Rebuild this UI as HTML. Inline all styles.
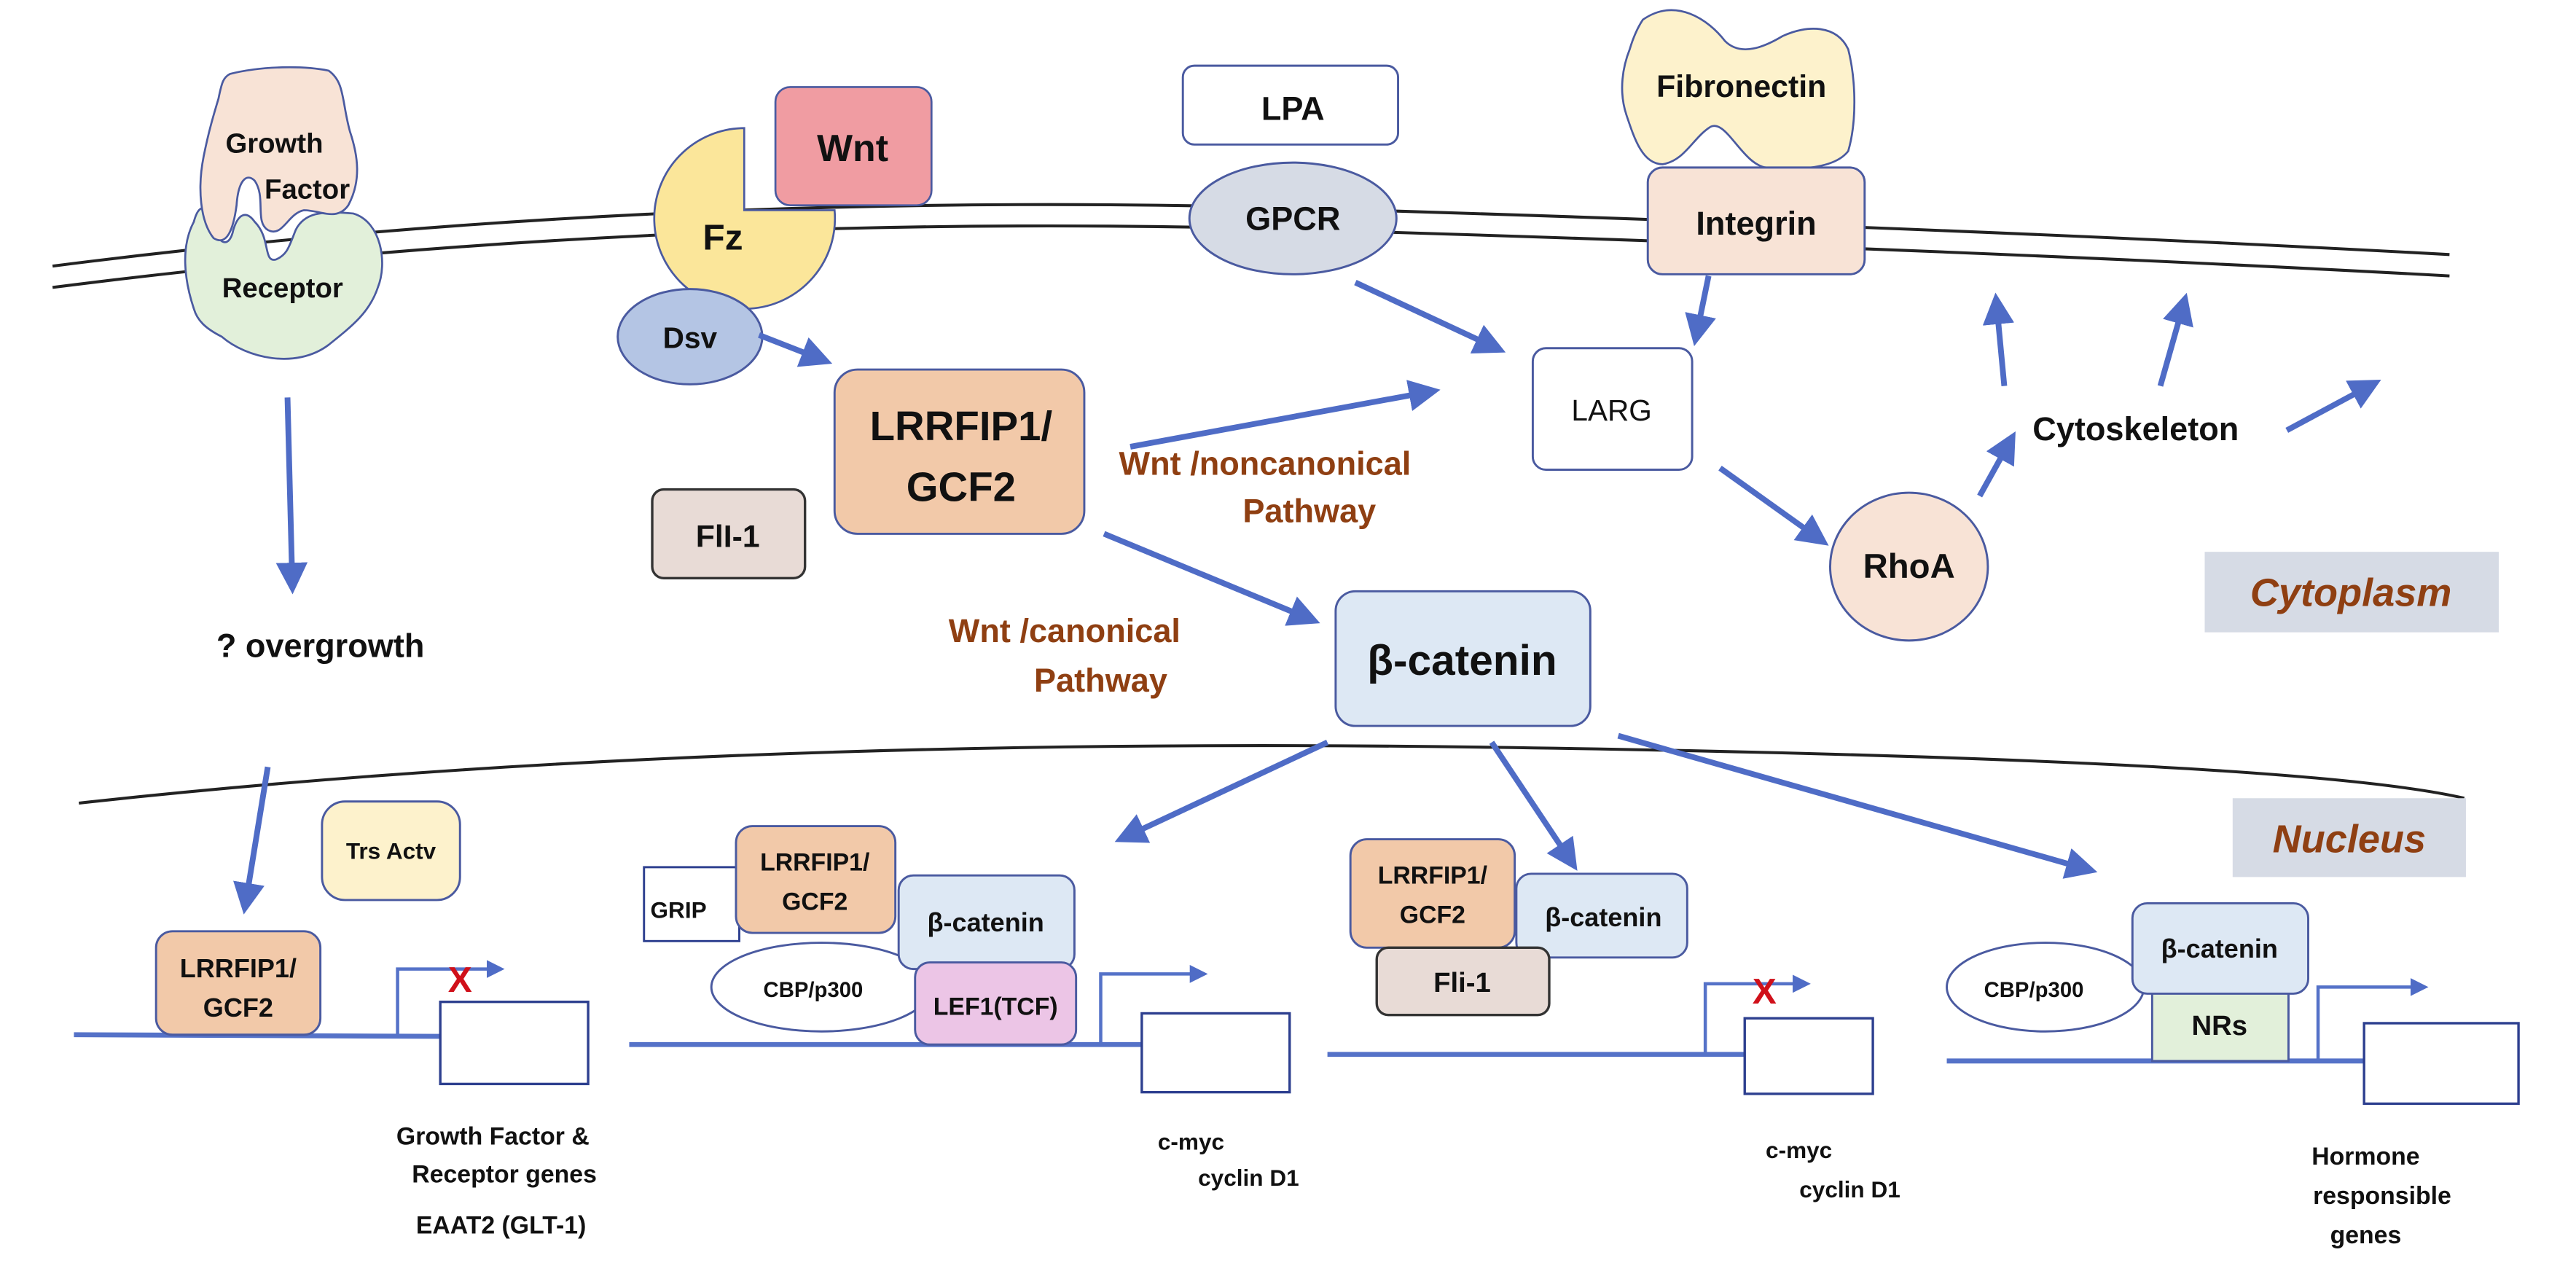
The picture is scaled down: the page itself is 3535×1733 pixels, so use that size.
<!DOCTYPE html>
<html><head><meta charset="utf-8"><style>
html,body{margin:0;padding:0;background:#fff;}
svg{display:block;}
text{font-family:"Liberation Sans",Arial,sans-serif;font-weight:bold;fill:#111;}
.br{fill:#8f3f12;}
</style></head><body>
<svg width="3535" height="1733" viewBox="0 0 1568 769" preserveAspectRatio="none" xmlns="http://www.w3.org/2000/svg">
<defs>
<marker id="ah" viewBox="0 0 10 10" refX="8" refY="5" markerWidth="5.5" markerHeight="5.5" orient="auto" markerUnits="strokeWidth">
<path d="M0,0 L10,5 L0,10 z" fill="#4f6cc6"/></marker>
<marker id="as" viewBox="0 0 10 10" refX="8" refY="5" markerWidth="5.5" markerHeight="5.5" orient="auto" markerUnits="strokeWidth">
<path d="M0,0 L10,5 L0,10 z" fill="#4f6cc6"/></marker>
</defs>
<!-- membranes -->
<path d="M32,162 Q400,115 800,127 T1491,155" fill="none" stroke="#222" stroke-width="1.8"/>
<path d="M32,175 Q400,128 800,140 T1491,168" fill="none" stroke="#222" stroke-width="1.8"/>
<path d="M48,489 Q420,448 908,455 T1500,486" fill="none" stroke="#222" stroke-width="1.8"/>

<!-- growth factor / receptor -->
<path d="M118,188 C112,170 110,150 118,135 C122,120 128,128 131,140 C134,150 140,150 142,140 C145,130 150,128 155,135 C165,145 160,160 168,158 C175,155 176,150 180,140 C185,130 195,128 215,130 C232,135 236,160 230,175 C225,190 215,198 200,210 C180,225 150,218 135,205 C125,200 120,195 118,188 Z" fill="#e2f0da" stroke="#4a5aa0" stroke-width="1.2"/>
<path d="M140,45 C160,40 185,40 200,43 C210,50 208,62 213,80 C218,95 220,110 212,125 C205,135 195,128 185,128 C175,130 172,145 163,140 C155,135 162,120 155,110 C150,105 145,110 144,125 C142,140 138,150 130,145 C122,135 120,115 124,95 C127,80 130,70 133,60 C135,50 136,47 140,45 Z" fill="#f8e3d6" stroke="#4a5aa0" stroke-width="1.2"/>
<text x="167" y="93" font-size="17" text-anchor="middle">Growth</text>
<text x="187" y="121" font-size="17" text-anchor="middle">Factor</text>
<text x="172" y="181" font-size="17" text-anchor="middle">Receptor</text>

<!-- Fz & Wnt -->
<path d="M453,78 L453,128 L508,128 A55,55 0 1 1 453,78 Z" fill="#fbe69a" stroke="#4a5aa0" stroke-width="1.2"/>
<rect x="472" y="53" width="95" height="72" rx="9" fill="#f09ca2" stroke="#4a5aa0" stroke-width="1.2"/>
<text x="519" y="98" font-size="23" text-anchor="middle">Wnt</text>
<text x="440" y="152" font-size="22" text-anchor="middle">Fz</text>

<!-- LPA GPCR -->
<rect x="720" y="40" width="131" height="48" rx="7" fill="#fff" stroke="#4a5aa0" stroke-width="1.3"/>
<text x="787" y="73" font-size="20" text-anchor="middle">LPA</text>
<ellipse cx="787" cy="133" rx="63" ry="34" fill="#d6dbe5" stroke="#4a5aa0" stroke-width="1.3"/>
<text x="787" y="140" font-size="20" text-anchor="middle">GPCR</text>

<!-- Fibronectin / Integrin -->
<path d="M1000,12 C1020,-2 1040,12 1050,25 C1060,35 1075,28 1085,22 C1100,15 1118,15 1125,30 C1130,50 1130,75 1125,92 C1115,105 1085,103 1075,102 C1060,100 1050,70 1040,78 C1030,85 1025,98 1012,100 C1000,100 995,85 990,70 C985,55 988,40 992,30 C995,20 998,15 1000,12 Z" fill="#fdf2cc" stroke="#4a5aa0" stroke-width="1.2"/>
<text x="1060" y="59" font-size="19" text-anchor="middle">Fibronectin</text>
<rect x="1003" y="102" width="132" height="65" rx="9" fill="#f8e3d6" stroke="#4a5aa0" stroke-width="1.3"/>
<text x="1069" y="143" font-size="20" text-anchor="middle">Integrin</text>

<!-- Dsv, LRRFIP1, Fli-1 -->
<ellipse cx="420" cy="205" rx="44" ry="29" fill="#b4c5e4" stroke="#4a5aa0" stroke-width="1.3"/>
<text x="420" y="212" font-size="18" text-anchor="middle">Dsv</text>
<rect x="508" y="225" width="152" height="100" rx="14" fill="#f2c9a9" stroke="#4a5aa0" stroke-width="1.3"/>
<text x="585" y="268" font-size="25" text-anchor="middle">LRRFIP1/</text>
<text x="585" y="305" font-size="25" text-anchor="middle">GCF2</text>
<rect x="397" y="298" width="93" height="54" rx="7" fill="#e8dbd6" stroke="#333" stroke-width="1.5"/>
<text x="443" y="333" font-size="19" text-anchor="middle">FlI-1</text>

<!-- LARG RhoA -->
<rect x="933" y="212" width="97" height="74" rx="8" fill="#fff" stroke="#4a5aa0" stroke-width="1.3"/>
<text x="981" y="256" font-size="18" text-anchor="middle" style="font-weight:normal">LARG</text>
<ellipse cx="1162" cy="345" rx="48" ry="45" fill="#f8e3d6" stroke="#4a5aa0" stroke-width="1.3"/>
<text x="1162" y="352" font-size="21" text-anchor="middle">RhoA</text>
<text x="1300" y="268" font-size="20" text-anchor="middle">Cytoskeleton</text>

<rect x="1342" y="336" width="179" height="49" fill="#d6dbe5"/>
<text x="1431" y="369" font-size="24" text-anchor="middle" class="br" font-style="italic">Cytoplasm</text>

<!-- beta catenin -->
<rect x="813" y="360" width="155" height="82" rx="12" fill="#dde8f4" stroke="#4a5aa0" stroke-width="1.3"/>
<text x="890" y="411" font-size="26" text-anchor="middle">β-catenin</text>

<text x="770" y="289" font-size="20" text-anchor="middle" class="br">Wnt /noncanonical</text>
<text x="797" y="318" font-size="20" text-anchor="middle" class="br">Pathway</text>
<text x="648" y="391" font-size="20" text-anchor="middle" class="br">Wnt /canonical</text>
<text x="670" y="421" font-size="20" text-anchor="middle" class="br">Pathway</text>
<text x="195" y="400" font-size="20" text-anchor="middle">? overgrowth</text>

<rect x="1359" y="486" width="142" height="48" fill="#d6dbe5"/>
<text x="1430" y="519" font-size="24" text-anchor="middle" class="br" font-style="italic">Nucleus</text>

<!-- arrows -->
<g stroke="#4f6cc6" stroke-width="3.5" fill="none" marker-end="url(#ah)">
<line x1="175" y1="242" x2="178" y2="358"/>
<line x1="163" y1="467" x2="149" y2="553"/>
<line x1="462" y1="204" x2="503" y2="220"/>
<line x1="688" y1="272" x2="873" y2="238"/>
<line x1="825" y1="172" x2="913" y2="213"/>
<line x1="1040" y1="168" x2="1032" y2="207"/>
<line x1="672" y1="325" x2="800" y2="378"/>
<line x1="1047" y1="285" x2="1110" y2="330"/>
<line x1="1205" y1="302" x2="1225" y2="266"/>
<line x1="1220" y1="235" x2="1215" y2="182"/>
<line x1="1315" y1="235" x2="1330" y2="182"/>
<line x1="1392" y1="262" x2="1446" y2="233"/>
<line x1="808" y1="452" x2="682" y2="511"/>
<line x1="908" y1="452" x2="958" y2="527"/>
<line x1="985" y1="448" x2="1273" y2="530"/>
</g>

<!-- Trs Actv -->
<rect x="196" y="488" width="84" height="60" rx="14" fill="#fdf2cc" stroke="#4a5aa0" stroke-width="1.3"/>
<text x="238" y="523" font-size="14" text-anchor="middle">Trs Actv</text>

<!-- Gene 1 -->
<line x1="45" y1="630" x2="268" y2="631" stroke="#5572c8" stroke-width="3"/>
<rect x="95" y="567" width="100" height="63" rx="10" fill="#f2c9a9" stroke="#4a5aa0" stroke-width="1.3"/>
<text x="145" y="595" font-size="16" text-anchor="middle">LRRFIP1/</text>
<text x="145" y="619" font-size="16" text-anchor="middle">GCF2</text>
<path d="M242,631 V590 H305" fill="none" stroke="#5572c8" stroke-width="2" marker-end="url(#as)"/>
<text x="280" y="604" font-size="22" text-anchor="middle" style="fill:#d0101a">X</text>
<rect x="268" y="610" width="90" height="50" fill="#fff" stroke="#2d3f8f" stroke-width="1.5"/>
<text x="300" y="697" font-size="15" text-anchor="middle">Growth Factor &amp;</text>
<text x="307" y="720" font-size="15" text-anchor="middle">Receptor genes</text>
<text x="305" y="751" font-size="15" text-anchor="middle">EAAT2 (GLT-1)</text>

<!-- Gene 2 -->
<line x1="383" y1="636" x2="695" y2="636" stroke="#5572c8" stroke-width="3"/>
<rect x="392" y="528" width="58" height="45" fill="#fff" stroke="#2d3f8f" stroke-width="1.3"/>
<text x="413" y="559" font-size="14" text-anchor="middle">GRIP</text>
<ellipse cx="500" cy="601" rx="67" ry="27" fill="#fff" stroke="#4a5aa0" stroke-width="1.3"/>
<text x="495" y="607" font-size="13" text-anchor="middle">CBP/p300</text>
<rect x="448" y="503" width="97" height="65" rx="10" fill="#f2c9a9" stroke="#4a5aa0" stroke-width="1.3"/>
<text x="496" y="530" font-size="15" text-anchor="middle">LRRFIP1/</text>
<text x="496" y="554" font-size="15" text-anchor="middle">GCF2</text>
<rect x="547" y="533" width="107" height="57" rx="9" fill="#dde8f4" stroke="#4a5aa0" stroke-width="1.3"/>
<text x="600" y="567" font-size="16" text-anchor="middle">β-catenin</text>
<rect x="557" y="586" width="98" height="50" rx="9" fill="#ecc5e6" stroke="#4a5aa0" stroke-width="1.3"/>
<text x="606" y="618" font-size="15" text-anchor="middle">LEF1(TCF)</text>
<path d="M670,636 V593 H733" fill="none" stroke="#5572c8" stroke-width="2" marker-end="url(#as)"/>
<rect x="695" y="617" width="90" height="48" fill="#fff" stroke="#2d3f8f" stroke-width="1.5"/>
<text x="725" y="700" font-size="14" text-anchor="middle">c-myc</text>
<text x="760" y="722" font-size="14" text-anchor="middle">cyclin D1</text>

<!-- Gene 3 -->
<line x1="808" y1="642" x2="1063" y2="642" stroke="#5572c8" stroke-width="3"/>
<rect x="923" y="532" width="104" height="51" rx="9" fill="#dde8f4" stroke="#4a5aa0" stroke-width="1.3"/>
<text x="976" y="564" font-size="16" text-anchor="middle">β-catenin</text>
<rect x="822" y="511" width="100" height="66" rx="10" fill="#f2c9a9" stroke="#4a5aa0" stroke-width="1.3"/>
<text x="872" y="538" font-size="15" text-anchor="middle">LRRFIP1/</text>
<text x="872" y="562" font-size="15" text-anchor="middle">GCF2</text>
<rect x="838" y="577" width="105" height="41" rx="7" fill="#e8dbd6" stroke="#333" stroke-width="1.5"/>
<text x="890" y="604" font-size="17" text-anchor="middle">Fli-1</text>
<path d="M1038,642 V599 H1100" fill="none" stroke="#5572c8" stroke-width="2" marker-end="url(#as)"/>
<text x="1074" y="611" font-size="22" text-anchor="middle" style="fill:#d0101a">X</text>
<rect x="1062" y="620" width="78" height="46" fill="#fff" stroke="#2d3f8f" stroke-width="1.5"/>
<text x="1095" y="705" font-size="14" text-anchor="middle">c-myc</text>
<text x="1126" y="729" font-size="14" text-anchor="middle">cyclin D1</text>

<!-- Gene 4 -->
<line x1="1185" y1="646" x2="1440" y2="646" stroke="#5572c8" stroke-width="3"/>
<ellipse cx="1245" cy="601" rx="60" ry="27" fill="#fff" stroke="#4a5aa0" stroke-width="1.3"/>
<text x="1238" y="607" font-size="13" text-anchor="middle">CBP/p300</text>
<rect x="1310" y="602" width="83" height="44" fill="#e2f0da" stroke="#4a5aa0" stroke-width="1.3"/>
<text x="1351" y="630" font-size="17" text-anchor="middle">NRs</text>
<rect x="1298" y="550" width="107" height="55" rx="9" fill="#dde8f4" stroke="#4a5aa0" stroke-width="1.3"/>
<text x="1351" y="583" font-size="16" text-anchor="middle">β-catenin</text>
<path d="M1411,646 V601 H1476" fill="none" stroke="#5572c8" stroke-width="2" marker-end="url(#as)"/>
<rect x="1439" y="623" width="94" height="49" fill="#fff" stroke="#2d3f8f" stroke-width="1.5"/>
<text x="1440" y="709" font-size="15" text-anchor="middle">Hormone</text>
<text x="1450" y="733" font-size="15" text-anchor="middle">responsible</text>
<text x="1440" y="757" font-size="15" text-anchor="middle">genes</text>
</svg>
</body></html>
